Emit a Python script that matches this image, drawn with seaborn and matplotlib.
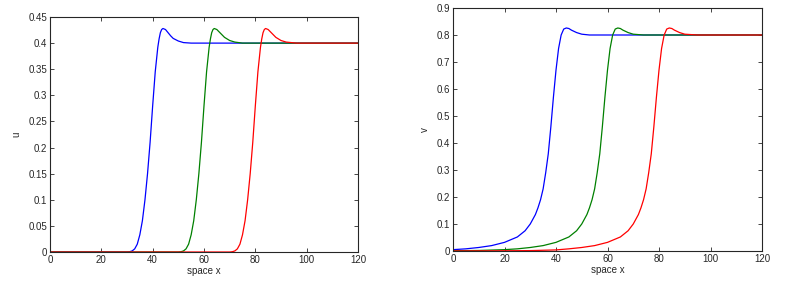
import matplotlib
matplotlib.use("Agg")
import matplotlib.pyplot as plt
import seaborn as sns

# u profiles (left panel)
u_blue_x = [0, 30, 31, 32, 33, 34, 35, 36, 37, 38, 39, 40, 41, 42, 42.5, 43, 43.5, 44, 45, 46, 47,
            48, 50, 52, 55, 120]
u_blue_y = [0, 0, 0.0005, 0.002, 0.006, 0.015, 0.033, 0.06, 0.1, 0.15, 0.21, 0.28, 0.345, 0.392,
            0.408, 0.42, 0.426, 0.428, 0.426, 0.42, 0.414, 0.409, 0.404, 0.401, 0.4, 0.4]
u_green_x = [0, 50, 51, 52, 53, 54, 55, 56, 57, 58, 59, 60, 61, 62, 62.5, 63, 63.5, 64, 65, 66, 67,
             68, 70, 72, 75, 120]
u_green_y = [0, 0, 0.0005, 0.002, 0.006, 0.015, 0.033, 0.06, 0.1, 0.15, 0.21, 0.28, 0.345, 0.392,
             0.408, 0.42, 0.426, 0.428, 0.426, 0.421, 0.416, 0.411, 0.405, 0.402, 0.4, 0.4]
u_red_x = [0, 70, 71, 72, 73, 74, 75, 76, 77, 78, 79, 80, 81, 82, 82.5, 83, 83.5, 84, 85, 86, 87,
           88, 90, 92, 96, 120]
u_red_y = [0, 0, 0.0005, 0.002, 0.006, 0.015, 0.033, 0.06, 0.1, 0.15, 0.21, 0.28, 0.345, 0.392,
           0.408, 0.42, 0.426, 0.428, 0.426, 0.421, 0.416, 0.411, 0.405, 0.402, 0.4, 0.4]

# v profiles (right panel)
v_blue_x = [0, 5, 10, 15, 20, 25, 28, 30, 32, 33, 34, 35, 36, 37, 38, 39, 40, 41, 42, 43, 44,
            45, 46, 48, 50, 53, 120]
v_blue_y = [0.005, 0.008, 0.013, 0.02, 0.032, 0.052, 0.075, 0.1, 0.135, 0.16, 0.19, 0.23, 0.29,
            0.36, 0.46, 0.57, 0.67, 0.75, 0.8, 0.822, 0.826, 0.824, 0.818, 0.809, 0.803, 0.8, 0.8]
v_green_x = [0, 10, 20, 25, 30, 35, 40, 45, 48, 50, 52, 53, 54, 55, 56, 57, 58, 59, 60, 61, 62,
             63, 64, 65, 66, 68, 70, 74, 120]
v_green_y = [0.001, 0.002, 0.005, 0.008, 0.013, 0.02, 0.032, 0.052, 0.075, 0.1, 0.135, 0.16,
             0.19, 0.23, 0.29, 0.36, 0.46, 0.57, 0.67, 0.75, 0.8, 0.822, 0.826, 0.824, 0.818,
             0.809, 0.803, 0.8, 0.8]
v_red_x = [0, 20, 30, 40, 45, 50, 55, 60, 65, 68, 70, 72, 73, 74, 75, 76, 77, 78, 79, 80, 81,
           82, 83, 84, 85, 86, 88, 90, 95, 120]
v_red_y = [0.0003, 0.0008, 0.0015, 0.004, 0.008, 0.013, 0.02, 0.032, 0.052, 0.075, 0.1, 0.135,
           0.16, 0.19, 0.23, 0.29, 0.36, 0.46, 0.57, 0.67, 0.75, 0.8, 0.822, 0.826, 0.824, 0.818,
           0.809, 0.803, 0.8, 0.8]

x_ticks = [0, 20, 40, 60, 80, 100, 120]
u_ticks = [0, 0.05, 0.1, 0.15, 0.2, 0.25, 0.3, 0.35, 0.4, 0.45]
v_ticks = [0, 0.1, 0.2, 0.3, 0.4, 0.5, 0.6, 0.7, 0.8, 0.9]

sns.set_style("ticks")
plt.rcParams['font.family'] = ['Liberation Sans', 'DejaVu Sans']

fig = plt.figure(figsize=(7.95, 2.84), dpi=100)
ax1 = fig.add_axes([50 / 795, 1 - 252 / 284, 308 / 795, 235 / 284])
ax2 = fig.add_axes([453 / 795, 1 - 251 / 284, 309 / 795, 243 / 284])

blue, green, red = (0, 0, 1), (0, 0.5, 0), (1, 0, 0)

for x, y, c in [(u_blue_x, u_blue_y, blue), (u_green_x, u_green_y, green), (u_red_x, u_red_y, red)]:
    sns.lineplot(x=x, y=y, color=c, linewidth=0.9, ax=ax1, sort=False, estimator=None)
for x, y, c in [(v_blue_x, v_blue_y, blue), (v_green_x, v_green_y, green), (v_red_x, v_red_y, red)]:
    sns.lineplot(x=x, y=y, color=c, linewidth=0.9, ax=ax2, sort=False, estimator=None)

for ax, yt, ylab in [(ax1, u_ticks, 'u'), (ax2, v_ticks, 'v')]:
    ax.set_xlim(0, 120)
    ax.set_ylim(0, yt[-1])
    ax.set_xticks(x_ticks)
    ax.set_yticks(yt)
    ax.set_yticklabels([f"{t:g}" for t in yt])
    ax.tick_params(direction='in', top=True, right=True, labelsize=7, length=3, width=0.6, pad=2)
    for s in ax.spines.values():
        s.set_linewidth(0.8)
    ax.set_xlabel('space x', fontsize=7, labelpad=1)
    ax.set_ylabel(ylab, fontsize=7, labelpad=5)

plt.savefig('out.png', dpi=100)
